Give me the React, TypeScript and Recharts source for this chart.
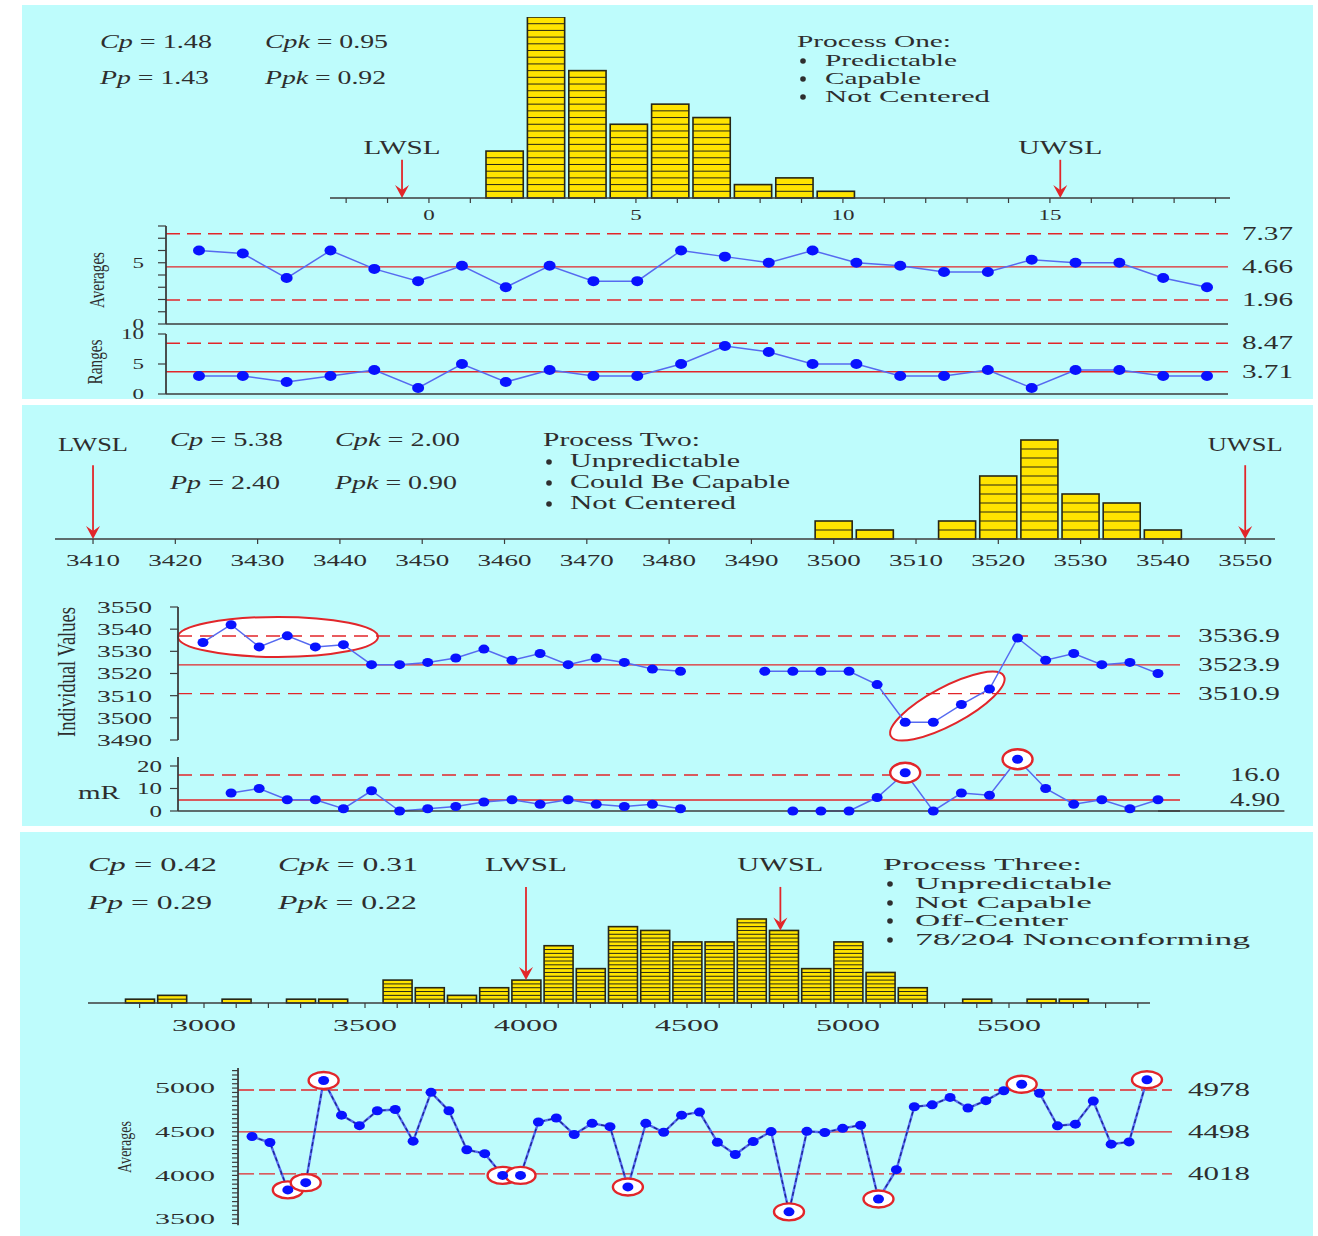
import React from "react";
import {
  ComposedChart,
  Bar,
  Line,
  XAxis,
  YAxis,
  ReferenceLine,
  ReferenceDot,
} from "recharts";

const FONT = '"Liberation Serif", "DejaVu Serif", serif';
const PANEL_BG = "#befcfc";
const INK = "#2e2e2e";
const AXIS = "#3c3c3c";
const RED = "#e2262a";
const YELLOW = "#ffe400";
const BAR_EDGE = "#262616";
const DOT_BLUE = "#0812ff";
const LINE_BLUE = "#566af0";
const LINE_DARK = "#1b2590";

const STAT_NAMES = ["Cp", "Cpk", "Pp", "Ppk"];

// Process One
const p1Bins = [1.83, 2.83, 3.83, 4.83, 5.83, 6.83, 7.83, 8.83, 9.83];
const p1Counts = [7, 27, 19, 11, 14, 12, 2, 3, 1];
const p1AxisLabels = [0, 5, 10, 15];
const p1Specs = [-0.65, 15.25];
const p1Averages = [6.0, 5.75, 3.75, 6.0, 4.5, 3.5, 4.75, 3.0, 4.75, 3.5, 3.5, 6.0, 5.5, 5.0, 6.0, 5.0, 4.75, 4.25, 4.25, 5.25, 5.0, 5.0, 3.75, 3.0];
const p1Ranges = [3, 3, 2, 3, 4, 1, 5, 2, 4, 3, 3, 5, 8, 7, 5, 5, 3, 3, 4, 1, 4, 4, 3, 3];
const p1AvgLimits = [7.37, 4.66, 1.96];
const p1AvgLimitLabels = ["7.37", "4.66", "1.96"];
const p1RangeLimits = [8.47, 3.71];
const p1RangeLimitLabels = ["8.47", "3.71"];
const p1Stats = ["1.48", "0.95", "1.43", "0.92"];
const p1Notes = ["Predictable", "Capable", "Not Centered"];

// Process Two
const p2Bins = [3500, 3505, 3515, 3520, 3525, 3530, 3535, 3540];
const p2Counts = [2, 1, 2, 7, 11, 5, 4, 1];
const p2Specs = [3410, 3550];
const p2Values = [3534, 3542, 3532, 3537, 3532, 3533, 3524, 3524, 3525, 3527, 3531, 3526, 3529, 3524, 3527, 3525, 3522, 3521, null, null, 3521, 3521, 3521, 3521, 3515, 3498, 3498, 3506, 3513, 3536, 3526, 3529, 3524, 3525, 3520];
const p2MovingRanges = [null, 8, 10, 5, 5, 1, 9, 0, 1, 2, 4, 5, 3, 5, 3, 2, 3, 1, null, null, null, 0, 0, 0, 6, 17, 0, 8, 7, 23, 10, 3, 5, 1, 5];
const p2XLimits = [3536.9, 3523.9, 3510.9];
const p2XLimitLabels = ["3536.9", "3523.9", "3510.9"];
const p2MRLimits = [16.0, 4.9];
const p2MRLimitLabels = ["16.0", "4.90"];
const p2MRCircled = [26, 30];
const p2Stats = ["5.38", "2.00", "2.40", "0.90"];
const p2Notes = ["Unpredictable", "Could Be Capable", "Not Centered"];

// Process Three
const p3Bins = [2800, 2900, 3100, 3300, 3400, 3600, 3700, 3800, 3900, 4000, 4100, 4200, 4300, 4400, 4500, 4600, 4700, 4800, 4900, 5000, 5100, 5200, 5400, 5600, 5700];
const p3Counts = [1, 2, 1, 1, 1, 6, 4, 2, 4, 6, 15, 9, 20, 19, 16, 16, 22, 19, 9, 16, 8, 4, 1, 1, 1];
const p3AxisLabels = [3000, 3500, 4000, 4500, 5000, 5500];
const p3Specs = [4000, 4790];
const p3Averages = [4445, 4377, 3834, 3917, 5087, 4690, 4570, 4740, 4755, 4392, 4951, 4740, 4294, 4249, 4000, 4000, 4611, 4657, 4468, 4596, 4558, 3868, 4596, 4494, 4690, 4725, 4380, 4240, 4387, 4502, 3583, 4505, 4491, 4539, 4575, 3730, 4066, 4786, 4808, 4893, 4771, 4856, 4970, 5044, 4941, 4568, 4587, 4852, 4358, 4384, 5096];
const p3Limits = [4978, 4498, 4018];
const p3LimitLabels = ["4978", "4498", "4018"];
const p3Circled = [3, 4, 5, 15, 16, 22, 31, 36, 44, 51];
const p3AvgLabels = [3500, 4000, 4500, 5000];
const p3Stats = ["0.42", "0.31", "0.29", "0.22"];
const p3Notes = ["Unpredictable", "Not Capable", "Off-Center", "78/204 Nonconforming"];

type Box = { left: number; top: number; width: number; height: number };

const range = (a: number, b: number, step: number) => {
  const out: number[] = [];
  for (let v = a; v <= b + 1e-9; v += step) out.push(Math.round(v * 1000) / 1000);
  return out;
};

const textW = (s: string, cw: number) =>
  s.split("").reduce((acc, ch) => acc + (ch === "." ? 0.5 : 1), 0) * cw;

function StripedBar(props: any) {
  const { x, y, width, height, payload } = props;
  if (!height || height <= 0) return <g />;
  const n = payload.count;
  const step = height / n;
  const lines = [];
  for (let k = 1; k < n; k++) {
    const yy = y + k * step;
    lines.push(<line key={k} x1={x} x2={x + width} y1={yy} y2={yy} stroke={BAR_EDGE} strokeWidth={1} />);
  }
  return (
    <g>
      <rect x={x} y={y} width={width} height={height} fill={YELLOW} />
      {lines}
      <rect x={x} y={y} width={width} height={height} fill="none" stroke={BAR_EDGE} strokeWidth={1.6} />
    </g>
  );
}

const specArrow = (name: string, gap: number, w: number) => (p: any) => {
  const { x1, y1, y2 } = p;
  const top = Math.min(y1, y2);
  const tip = Math.max(y1, y2);
  return (
    <g>
      <line x1={x1} x2={x1} y1={top} y2={tip - 8} stroke={RED} strokeWidth={1.8} />
      <polygon points={`${x1 - 7},${tip - 13} ${x1},${tip - 8} ${x1 + 7},${tip - 13} ${x1},${tip}`} fill={RED} />
      <text x={x1} y={top - gap} textAnchor="middle" fontSize={18} fill={INK} fontFamily={FONT} textLength={w} lengthAdjust="spacingAndGlyphs">
        {name}
      </text>
    </g>
  );
};

const xTick = (labels: number[], fs: number, cw: number, dy: number) => (p: any) => {
  const { x, y, payload, index } = p;
  if (!labels.includes(payload.value)) return <g key={`t${index}`} />;
  const s = String(payload.value);
  return (
    <text key={`t${index}`} x={x} y={y + dy} textAnchor="middle" fontSize={fs} fill={INK} fontFamily={FONT} textLength={textW(s, cw)} lengthAdjust="spacingAndGlyphs">
      {s}
    </text>
  );
};

const yTick = (labels: number[], fs: number, cw: number) => (p: any) => {
  const { x, y, payload, index } = p;
  if (!labels.includes(payload.value)) return <g key={`t${index}`} />;
  const s = String(payload.value);
  return (
    <text key={`t${index}`} x={x} y={y + fs * 0.35} textAnchor="end" fontSize={fs} fill={INK} fontFamily={FONT} textLength={textW(s, cw)} lengthAdjust="spacingAndGlyphs">
      {s}
    </text>
  );
};

type HistProps = {
  box: Box;
  bins: number[];
  counts: number[];
  binWidth: number;
  xDomain: [number, number];
  xTicks: number[];
  xLabels: number[];
  yMax: number;
  specs: number[];
  specTop: number;
  specEnds: number[];
  specWidths: number[];
  labelGap: number;
  tickFs: number;
  tickCw: number;
  tickDy: number;
  topMargin: number;
};

function Histogram(h: HistProps) {
  const data = h.bins.map((b, k) => ({ x: b, count: h.counts[k] }));
  const barSize = (h.box.width * h.binWidth) / (h.xDomain[1] - h.xDomain[0]);
  const SIDE = 30;
  return (
    <div style={{ position: "absolute", left: h.box.left - SIDE, top: h.box.top - h.topMargin }}>
      <ComposedChart
        width={h.box.width + 2 * SIDE}
        height={h.topMargin + h.box.height + 40}
        data={data}
        margin={{ top: h.topMargin, right: SIDE, bottom: 0, left: SIDE }}
      >
        <XAxis
          dataKey="x"
          type="number"
          domain={h.xDomain}
          ticks={h.xTicks}
          interval={0}
          height={40}
          allowDataOverflow
          tickSize={5}
          axisLine={{ stroke: AXIS, strokeWidth: 1.5 }}
          tickLine={{ stroke: AXIS, strokeWidth: 1.2 }}
          tick={xTick(h.xLabels, h.tickFs, h.tickCw, h.tickDy)}
        />
        <YAxis hide type="number" domain={[0, h.yMax]} />
        <Bar dataKey="count" barSize={barSize} shape={StripedBar} isAnimationActive={false} />
        {h.specs.map((s, k) => (
          <ReferenceLine
            key={k}
            segment={[{ x: s, y: h.specTop }, { x: s, y: h.specEnds[k] }]}
            ifOverflow="visible"
            shape={specArrow(k === 0 ? "LWSL" : "UWSL", h.labelGap, h.specWidths[k])}
          />
        ))}
      </ComposedChart>
    </div>
  );
}

type Ell = { x: number; y: number; rx: number; ry: number; angle: number };

type CCProps = {
  box: Box;
  values: (number | null)[];
  yDomain: [number, number];
  yTicks: number[];
  yLabels: number[];
  yAxisWidth: number;
  tickSize: number;
  tickMargin: number;
  tickFs: number;
  tickCw: number;
  pad: [number, number];
  limits: number[];
  limitLabels: string[];
  dashed: boolean[];
  labelRight: number;
  labelCw: number;
  dash: string;
  dotR: [number, number];
  circled?: number[];
  ringR?: [number, number];
  ellipses?: Ell[];
  bottomAxis?: boolean;
  baseExtendTo?: number;
  dashedLine?: boolean;
};

function ControlChart(c: CCProps) {
  const data = c.values.map((v, k) => ({ i: k + 1, v }));
  const MT = 14;
  const MB = 14;
  const MR = 130;
  const yOf = (v: number) =>
    c.box.top + ((c.yDomain[1] - v) / (c.yDomain[1] - c.yDomain[0])) * c.box.height;
  const circled = c.circled || [];
  const ringR = c.ringR || [14, 9];
  const blueDot = (p: any) => {
    const { cx, cy, payload, index } = p;
    if (cx == null || cy == null || payload.v == null) return <g key={`b${index}`} />;
    return <ellipse key={`b${index}`} cx={cx} cy={cy} rx={c.dotR[0]} ry={c.dotR[1]} fill={DOT_BLUE} />;
  };
  const ringDot = (p: any) => {
    const { cx, cy, payload, index } = p;
    if (cx == null || cy == null || payload.v == null || !circled.includes(payload.i))
      return <g key={`r${index}`} />;
    return (
      <ellipse key={`r${index}`} cx={cx} cy={cy} rx={ringR[0]} ry={ringR[1]} fill="#ffffff" stroke={RED} strokeWidth={2.4} />
    );
  };
  return (
    <>
      <div style={{ position: "absolute", left: c.box.left - c.yAxisWidth, top: c.box.top - MT }}>
        <ComposedChart
          width={c.yAxisWidth + c.box.width + MR}
          height={MT + c.box.height + 1 + MB}
          data={data}
          margin={{ top: MT, right: MR, bottom: MB, left: 0 }}
        >
          <XAxis
            dataKey="i"
            type="number"
            domain={[1, c.values.length]}
            padding={{ left: c.pad[0], right: c.pad[1] }}
            height={1}
            tick={false}
            tickLine={false}
            axisLine={c.bottomAxis ? { stroke: AXIS, strokeWidth: 1.6 } : false}
          />
          <YAxis
            type="number"
            domain={c.yDomain}
            ticks={c.yTicks}
            interval={0}
            width={c.yAxisWidth}
            tickSize={c.tickSize}
            tickMargin={c.tickMargin}
            axisLine={{ stroke: AXIS, strokeWidth: 1.8 }}
            tickLine={{ stroke: AXIS, strokeWidth: 1.2 }}
            tick={yTick(c.yLabels, c.tickFs, c.tickCw)}
          />
          {(c.ellipses || []).map((e, k) => (
            <ReferenceDot
              key={`e${k}`}
              x={e.x}
              y={e.y}
              r={1}
              ifOverflow="visible"
              zIndex={-50}
              shape={(p: any) => (
                <ellipse
                  cx={p.cx}
                  cy={p.cy}
                  rx={e.rx}
                  ry={e.ry}
                  transform={`rotate(${e.angle} ${p.cx} ${p.cy})`}
                  fill="#ffffff"
                  stroke={RED}
                  strokeWidth={2}
                />
              )}
            />
          ))}
          {c.baseExtendTo != null && (
            <ReferenceLine
              segment={[{ x: c.values.length, y: c.yDomain[0] }, { x: c.baseExtendTo, y: c.yDomain[0] }]}
              ifOverflow="visible"
              stroke={AXIS}
              strokeWidth={1.6}
            />
          )}
          {c.limits.map((v, k) => (
            <ReferenceLine
              key={`l${k}`}
              y={v}
              stroke={RED}
              strokeWidth={1.4}
              strokeDasharray={c.dashed[k] ? c.dash : undefined}
            />
          ))}
          <Line dataKey="v" stroke={LINE_BLUE} strokeWidth={c.dashedLine ? 2.4 : 1.5} dot={false} activeDot={false} isAnimationActive={false} />
          {c.dashedLine && (
            <Line dataKey="v" stroke={LINE_DARK} strokeWidth={1.3} strokeDasharray="4 3" dot={false} activeDot={false} isAnimationActive={false} />
          )}
          {circled.length > 0 && (
            <Line dataKey="v" stroke="none" dot={ringDot} activeDot={false} isAnimationActive={false} />
          )}
          <Line dataKey="v" stroke="none" dot={blueDot} activeDot={false} isAnimationActive={false} />
        </ComposedChart>
      </div>
      <svg
        width={1318}
        height={1236}
        style={{ position: "absolute", left: 0, top: 0, overflow: "visible", pointerEvents: "none" }}
      >
        {c.limits.map((v, k) => {
          const s = c.limitLabels[k];
          return (
            <text
              key={k}
              x={c.labelRight}
              y={yOf(v) + 6}
              textAnchor="end"
              fontSize={18}
              fill={INK}
              fontFamily={FONT}
              textLength={textW(s, c.labelCw)}
              lengthAdjust="spacingAndGlyphs"
            >
              {s}
            </text>
          );
        })}
      </svg>
    </>
  );
}

function Stat({ x, y, w, name, value, fs }: { x: number; y: number; w: number; name: string; value: string; fs: number }) {
  return (
    <text x={x} y={y} fontSize={fs} fill={INK} textLength={w} lengthAdjust="spacingAndGlyphs">
      <tspan fontStyle="italic">{name}</tspan>
      {" = "}
      {value}
    </text>
  );
}

function Notes(n: {
  title: string;
  titleX: number;
  titleY: number;
  titleW: number;
  notes: string[];
  bulletX: number;
  textX: number;
  ys: number[];
  widths: number[];
  fs: number;
}) {
  return (
    <g>
      <text x={n.titleX} y={n.titleY} fontSize={n.fs} fill={INK} textLength={n.titleW} lengthAdjust="spacingAndGlyphs">
        {n.title}
      </text>
      {n.notes.map((t, k) => (
        <g key={k}>
          <circle cx={n.bulletX + 3} cy={n.ys[k] - 5} r={2.8} fill={INK} />
          <text x={n.textX} y={n.ys[k]} fontSize={n.fs} fill={INK} textLength={n.widths[k]} lengthAdjust="spacingAndGlyphs">
            {t}
          </text>
        </g>
      ))}
    </g>
  );
}

function VText({ cx, cy, len, fs, children }: { cx: number; cy: number; len: number; fs: number; children: React.ReactNode }) {
  return (
    <text
      transform={`translate(${cx} ${cy}) scale(1.35 1) rotate(-90)`}
      textAnchor="middle"
      dominantBaseline="central"
      fontSize={fs}
      fill={INK}
      textLength={len}
      lengthAdjust="spacingAndGlyphs"
    >
      {children}
    </text>
  );
}

function StatBlock({ values, pos, fs }: { values: string[]; pos: number[][]; fs: number }) {
  return (
    <g>
      {values.map((v, k) => (
        <Stat key={k} x={pos[k][0]} y={pos[k][1]} w={pos[k][2]} name={STAT_NAMES[k]} value={v} fs={fs} />
      ))}
    </g>
  );
}

export default function App() {
  return (
    <div
      style={{
        position: "absolute",
        left: 0,
        top: 0,
        width: 1318,
        height: 1236,
        background: "#ffffff",
        overflow: "hidden",
        fontFamily: FONT,
      }}
    >
      <div style={{ position: "absolute", left: 22, top: 5, width: 1291, height: 394, background: PANEL_BG }} />
      <div style={{ position: "absolute", left: 22, top: 405, width: 1291, height: 421, background: PANEL_BG }} />
      <div style={{ position: "absolute", left: 20, top: 832, width: 1293, height: 404, background: PANEL_BG }} />

      {/* Process One */}
      <Histogram
        box={{ left: 330, top: 17, width: 900, height: 181 }}
        bins={p1Bins}
        counts={p1Counts}
        binWidth={1}
        xDomain={[-2.39, 19.35]}
        xTicks={range(-2, 19, 1)}
        xLabels={p1AxisLabels}
        yMax={27}
        specs={p1Specs}
        specTop={5.7}
        specEnds={[0, 0]}
        specWidths={[77, 84]}
        labelGap={6}
        tickFs={15}
        tickCw={11.5}
        tickDy={15}
        topMargin={0}
      />
      <ControlChart
        box={{ left: 166, top: 226, width: 1062, height: 98 }}
        values={p1Averages}
        yDomain={[0, 8]}
        yTicks={range(0, 8, 1)}
        yLabels={[0, 5]}
        yAxisWidth={70}
        tickSize={8}
        tickMargin={14}
        tickFs={14}
        tickCw={11.5}
        pad={[33, 21]}
        limits={p1AvgLimits}
        limitLabels={p1AvgLimitLabels}
        dashed={[true, false, true]}
        labelRight={1293}
        labelCw={14.6}
        dash="14 7"
        dotR={[6, 5]}
        bottomAxis
      />
      <ControlChart
        box={{ left: 166, top: 334, width: 1062, height: 60 }}
        values={p1Ranges}
        yDomain={[0, 10]}
        yTicks={[0, 5, 10]}
        yLabels={[0, 5, 10]}
        yAxisWidth={70}
        tickSize={8}
        tickMargin={14}
        tickFs={14}
        tickCw={11.5}
        pad={[33, 21]}
        limits={p1RangeLimits}
        limitLabels={p1RangeLimitLabels}
        dashed={[true, false]}
        labelRight={1293}
        labelCw={14.6}
        dash="14 7"
        dotR={[6, 5]}
        bottomAxis
      />

      {/* Process Two */}
      <Histogram
        box={{ left: 55, top: 440, width: 1220, height: 99 }}
        bins={p2Bins}
        counts={p2Counts}
        binWidth={5}
        xDomain={[3405.38, 3553.62]}
        xTicks={range(3410, 3550, 10)}
        xLabels={range(3410, 3550, 10)}
        yMax={11}
        specs={p2Specs}
        specTop={8.2}
        specEnds={[0, 0]}
        specWidths={[70, 75]}
        labelGap={14}
        tickFs={17}
        tickCw={13.5}
        tickDy={20}
        topMargin={24}
      />
      <ControlChart
        box={{ left: 178, top: 607, width: 1002, height: 133 }}
        values={p2Values}
        yDomain={[3490, 3550]}
        yTicks={range(3490, 3550, 10)}
        yLabels={range(3490, 3550, 10)}
        yAxisWidth={100}
        tickSize={8}
        tickMargin={18}
        tickFs={17}
        tickCw={13.75}
        pad={[25, 22]}
        limits={p2XLimits}
        limitLabels={p2XLimitLabels}
        dashed={[true, false, true]}
        labelRight={1280}
        labelCw={14.9}
        dash="14 8"
        dotR={[5.5, 4.5]}
        ellipses={[
          { x: 3.67, y: 3536.5, rx: 100, ry: 20, angle: 0 },
          { x: 27.5, y: 3505.3, rx: 64, ry: 19, angle: -28 },
        ]}
      />
      <ControlChart
        box={{ left: 178, top: 757, width: 1002, height: 54 }}
        values={p2MovingRanges}
        yDomain={[0, 24]}
        yTicks={[0, 10, 20]}
        yLabels={[0, 10, 20]}
        yAxisWidth={100}
        tickSize={8}
        tickMargin={8}
        tickFs={16}
        tickCw={12.5}
        pad={[25, 22]}
        limits={p2MRLimits}
        limitLabels={p2MRLimitLabels}
        dashed={[true, false]}
        labelRight={1280}
        labelCw={14.3}
        dash="14 8"
        dotR={[5.5, 4.5]}
        circled={p2MRCircled}
        ringR={[15, 10]}
        bottomAxis
        baseExtendTo={39.5}
      />

      {/* Process Three */}
      <Histogram
        box={{ left: 88, top: 919, width: 1062, height: 84 }}
        bins={p3Bins}
        counts={p3Counts}
        binWidth={100}
        xDomain={[2639.75, 5937.9]}
        xTicks={range(2800, 5900, 100)}
        xLabels={p3AxisLabels}
        yMax={22}
        specs={p3Specs}
        specTop={30.4}
        specEnds={[6, 19]}
        specWidths={[82, 86]}
        labelGap={16}
        tickFs={16}
        tickCw={16}
        tickDy={21}
        topMargin={69}
      />
      <ControlChart
        box={{ left: 238, top: 1068, width: 934, height: 157.2 }}
        values={p3Averages}
        yDomain={[3430, 5230]}
        yTicks={range(3450, 5200, 50)}
        yLabels={p3AvgLabels}
        yAxisWidth={100}
        tickSize={6}
        tickMargin={17}
        tickFs={15}
        tickCw={15}
        pad={[14, 25]}
        limits={p3Limits}
        limitLabels={p3LimitLabels}
        dashed={[true, false, true]}
        labelRight={1250}
        labelCw={15.5}
        dash="16 5"
        dotR={[5.5, 4.5]}
        circled={p3Circled}
        ringR={[15, 8.5]}
        dashedLine
      />

      <svg
        width={1318}
        height={1236}
        style={{ position: "absolute", left: 0, top: 0, pointerEvents: "none" }}
        fontFamily={FONT}
      >
        <StatBlock values={p1Stats} pos={[[100, 48, 112], [265, 48, 123], [100, 84, 109], [265, 84, 121]]} fs={19} />
        <Notes title="Process One:" titleX={797} titleY={47} titleW={154} notes={p1Notes} bulletX={800} textX={825} ys={[66, 84, 102]} widths={[132, 96, 165]} fs={17} />
        <VText cx={97} cy={280} len={56} fs={15}>Averages</VText>
        <VText cx={95} cy={362} len={45} fs={15}>Ranges</VText>

        <StatBlock values={p2Stats} pos={[[170, 446, 113], [335, 446, 125], [170, 489, 110], [335, 489, 122]]} fs={19} />
        <Notes title="Process Two:" titleX={543} titleY={446} titleW={157} notes={p2Notes} bulletX={546} textX={570} ys={[467, 488, 509]} widths={[170, 220, 166]} fs={18} />
        <VText cx={67} cy={672} len={130} fs={18}>Individual Values</VText>
        <text x={78} y={799} fontSize={18} fill={INK} textLength={42} lengthAdjust="spacingAndGlyphs">mR</text>

        <StatBlock values={p3Stats} pos={[[88, 871, 129], [278, 871, 140], [88, 909, 124], [278, 909, 139]]} fs={19} />
        <Notes title="Process Three:" titleX={883} titleY={870} titleW={199} notes={p3Notes} bulletX={887} textX={915} ys={[889, 908, 926, 945]} widths={[197, 177, 153, 335]} fs={17} />
        <VText cx={125} cy={1147} len={52} fs={14}>Averages</VText>
      </svg>
    </div>
  );
}
